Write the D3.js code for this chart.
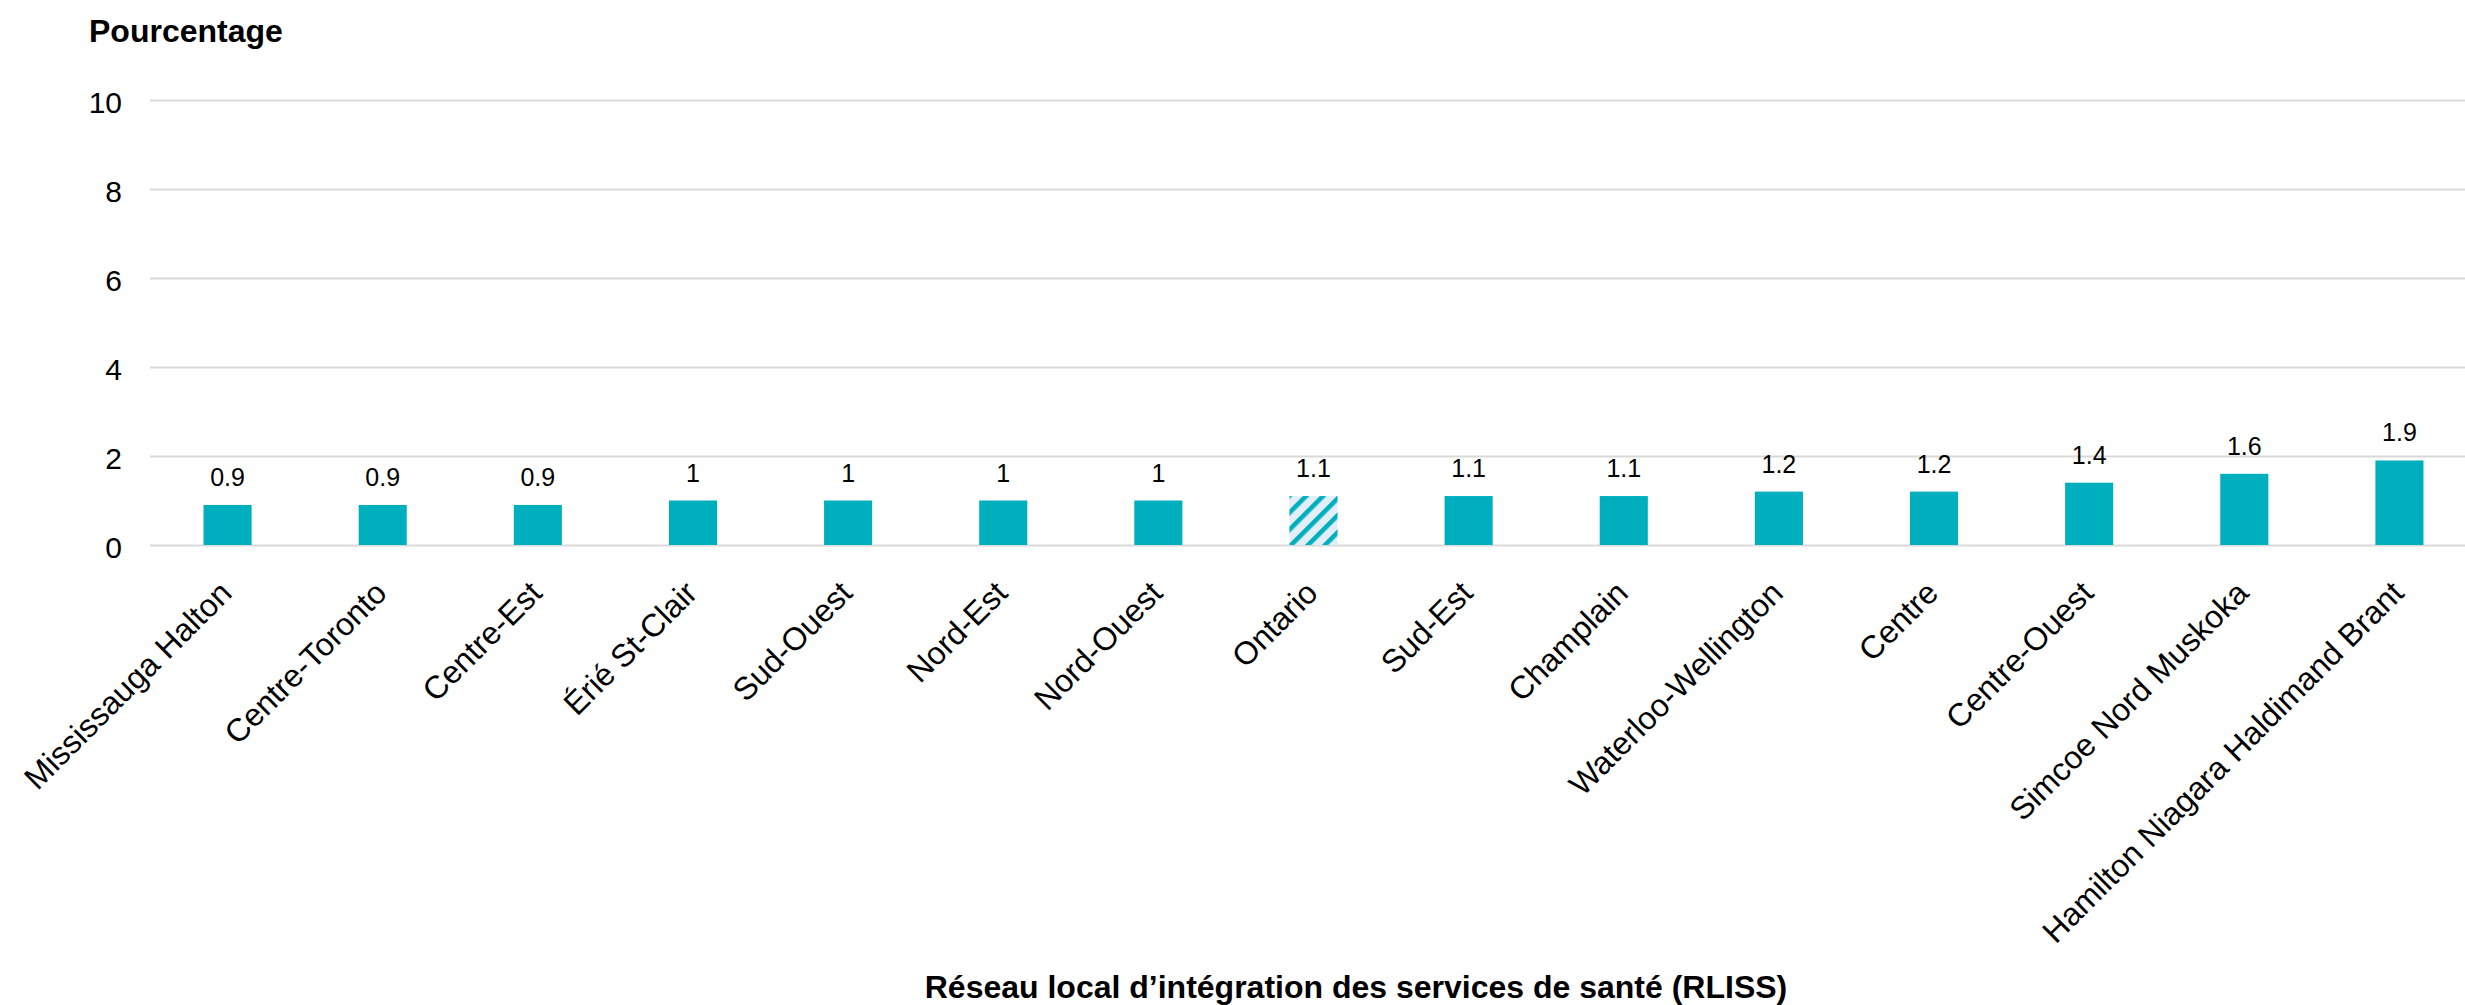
<!DOCTYPE html>
<html>
<head>
<meta charset="utf-8">
<script src="https://cdn.jsdelivr.net/npm/d3@7/dist/d3.min.js"></script>
<style>
  html, body { margin: 0; padding: 0; background: #ffffff; }
  svg { display: block; font-family: "Liberation Sans", Arial, sans-serif; }
</style>
</head>
<body>
<svg id="chart" width="2465" height="1005"></svg>
<script>
const categories = ["Mississauga Halton", "Centre-Toronto", "Centre-Est", "Érié St-Clair", "Sud-Ouest", "Nord-Est", "Nord-Ouest", "Ontario", "Sud-Est", "Champlain", "Waterloo-Wellington", "Centre", "Centre-Ouest", "Simcoe Nord Muskoka", "Hamilton Niagara Haldimand Brant"];
const values = [0.9, 0.9, 0.9, 1, 1, 1, 1, 1.1, 1.1, 1.1, 1.2, 1.2, 1.4, 1.6, 1.9];
const highlighted = ["Ontario"];
const yTicks = [0, 2, 4, 6, 8, 10];
const yTitle = "Pourcentage";
const xTitle = "Réseau local d’intégration des services de santé (RLISS)";

const W = 2465, H = 1005;
const svg = d3.select("#chart");
const teal = "#00afbe";

const x = d3.scaleBand().domain(categories).range([150, 2477]).paddingInner(0.69).paddingOuter(0.345);
const y = d3.scaleLinear().domain([0, 10]).range([545, 100]);

const defs = svg.append("defs");
const pat = defs.append("pattern")
  .attr("id", "hatch").attr("patternUnits", "userSpaceOnUse")
  .attr("width", 12).attr("height", 12)
  .attr("patternTransform", "rotate(45)");
pat.append("rect").attr("width", 12).attr("height", 12).attr("fill", "#e4eef8");
pat.append("rect").attr("x", 0).attr("width", 4.6).attr("height", 12).attr("fill", teal);

// gridlines
const yAxis = d3.axisLeft(y).tickValues(yTicks).tickSize(-(2477 - 150)).tickPadding(28).tickFormat(d3.format("d"));
const gy = svg.append("g").attr("transform", "translate(150,0)").call(yAxis);
gy.select(".domain").remove();
gy.selectAll(".tick line").attr("stroke", "#d9d9d9").attr("stroke-width", 2);
gy.selectAll(".tick text").attr("font-size", 30).attr("fill", "#000").attr("dy", "0.42em");

// bars
svg.append("g").selectAll("rect").data(categories).join("rect")
  .attr("x", (d) => x(d))
  .attr("width", x.bandwidth())
  .attr("y", (d, i) => y(values[i]))
  .attr("height", (d, i) => y(0) - y(values[i]))
  .attr("fill", (d) => highlighted.includes(d) ? "url(#hatch)" : teal);

// value labels
svg.append("g").selectAll("text").data(categories).join("text")
  .attr("x", (d) => x(d) + x.bandwidth() / 2)
  .attr("y", (d, i) => y(values[i]) - 19)
  .attr("text-anchor", "middle")
  .attr("font-size", 25)
  .attr("fill", "#000")
  .text((d, i) => String(values[i]));

// x axis labels
const xAxis = d3.axisBottom(x).tickSize(0).tickPadding(0);
const gx = svg.append("g").attr("transform", "translate(0,545)").call(xAxis);
gx.select(".domain").remove();
gx.selectAll(".tick text")
  .attr("font-size", 32).attr("fill", "#000")
  .attr("text-anchor", "end")
  .attr("dy", 0).attr("y", 0)
  .attr("transform", "translate(6,50) rotate(-45)");

// titles
svg.append("text").attr("x", 89).attr("y", 42)
  .attr("font-size", 32).attr("font-weight", "bold").attr("fill", "#000").text(yTitle);
svg.append("text").attr("x", 1356).attr("y", 998)
  .attr("text-anchor", "middle")
  .attr("font-size", 32).attr("font-weight", "bold").attr("fill", "#000").text(xTitle);
</script>
</body>
</html>
